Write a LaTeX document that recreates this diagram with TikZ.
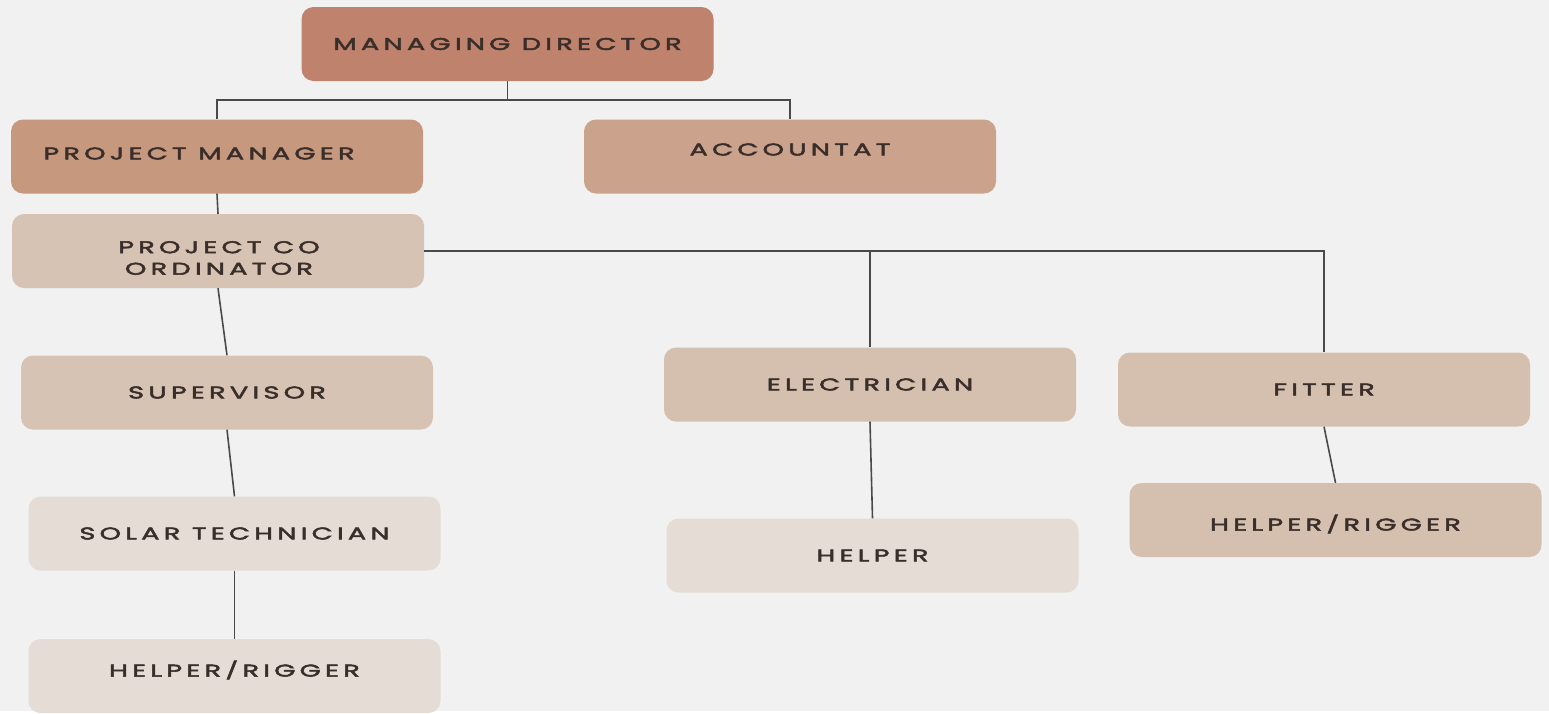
\documentclass[tikz,border=0pt]{standalone}
\usepackage{fontspec}
\setmainfont{Poppins}[LetterSpace=25,FakeStretch=1.6,FakeBold=3]
\definecolor{bgcol}{HTML}{F1F1F1}
\definecolor{linecol}{HTML}{4A4A4A}
\definecolor{txtcol}{HTML}{3A2E2A}
\definecolor{tone1}{HTML}{BE826D}
\definecolor{tone2}{HTML}{C6987E}
\definecolor{tone3}{HTML}{CBA38C}
\definecolor{tone4}{HTML}{D7C3B4}
\definecolor{tone5}{HTML}{D5C0AF}
\definecolor{tone6}{HTML}{E5DDD5}
\begin{document}
\begin{tikzpicture}[x=1pt,y=-1pt,
  box/.style={rounded corners=12pt,minimum width=412pt,minimum height=74pt,inner sep=0pt},
  lbl/.style={align=center,inner sep=0pt,text=txtcol,font=\fontsize{17}{21.5}\selectfont},
  link/.style={draw=linecol,line width=1.6pt}]

\fill[bgcol] (0,0) rectangle (1549,711);

% boxes, then their texts (shifted a little where the chart has them off centre)
\foreach \name/\x/\y/\col/\dx/\dy/\txt in {
  md/507.5/44/tone1/0/0/MANAGING DIRECTOR,
  pm/217/156.5/tone2/-18/-3/PROJECT MANAGER,
  acc/790/156.5/tone3/0/-7/ACCOUNTAT,
  pco/218/251/tone4/1/7/{PROJECT CO\\ORDINATOR},
  sup/227/392.5/tone4/0/0/SUPERVISOR,
  sol/234.5/533.5/tone6/0/0/SOLAR TECHNICIAN,
  hrl/234.5/676/tone6/0/-6/{HELPER/RIGGER},
  elec/870/384.5/tone5/0/0/ELECTRICIAN,
  help/872.5/555.5/tone6/0/0/HELPER,
  fit/1324/389.5/tone5/0/0/FITTER,
  hrr/1335.5/520/tone5/0/4/{HELPER/RIGGER}}
{\node[box,fill=\col] (\name) at (\x,\y) {};
 \node[lbl] (\name-t) at ([shift={(\dx,\dy)}] \name.center) {\txt};}

\coordinate (mdj) at ([yshift=-19pt] md.south);
\draw[link] (md.south) -- (mdj);
\draw[link] (pm.north) |- (mdj) -| (acc.north);
\draw[link] (pm.south) -- (pco.north);
\draw[link] (pco.east) -| (fit.north);
\draw[link] (elec.north) -- (elec.north |- pco.east);
\draw[link] (pco.south) -- (sup.north);
\draw[link] (sup.south) -- (sol.north);
\draw[link] (sol.south) -- (hrl.north);
\draw[link] (elec.south) -- (help.north);
\draw[link] (fit.south) -- (hrr.north);
\end{tikzpicture}
\end{document}
